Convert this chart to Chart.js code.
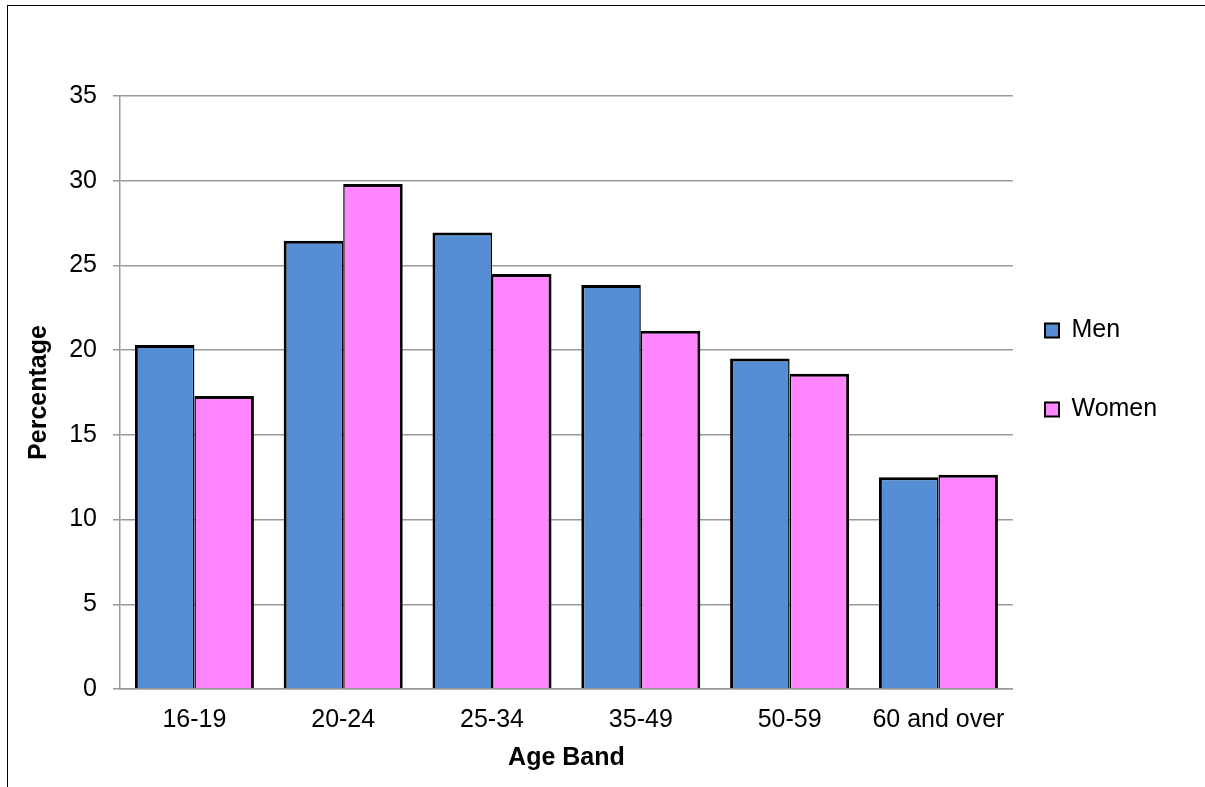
<!DOCTYPE html>
<html>
<head>
<meta charset="utf-8">
<script src="https://cdn.jsdelivr.net/npm/chart.js@4.4.0/dist/chart.umd.min.js"></script>
<style>
  html, body { margin: 0; padding: 0; background: #fff; }
  #wrap { position: relative; width: 1205px; height: 787px; overflow: hidden; }
  #frame { position: absolute; left: 7px; top: 5px; width: 1300px; height: 900px; border: 1.5px solid #000; box-sizing: border-box; }
  canvas { position: absolute; left: 0; top: 0; }
</style>
</head>
<body>
<div id="wrap">
  <div id="frame"></div>
  <canvas id="ageChart" width="1205" height="787"></canvas>
</div>
<script>
// --- Data ---
const ageBands = ['16-19', '20-24', '25-34', '35-49', '50-59', '60 and over'];
const menValues = [20.3, 26.45, 26.95, 23.85, 19.5, 12.5];
const womenValues = [17.3, 29.8, 24.5, 21.15, 18.6, 12.65];

const FONT = 'Liberation Sans, Arial, sans-serif';

// move the legend next to the plot, like the original
const legendSpot = {
  id: 'legendSpot',
  afterLayout(chart) {
    const lg = chart.legend;
    const pad = lg.options.labels.padding;
    const w = lg.right - lg.left;
    lg.left = 1045 - pad;
    lg.right = lg.left + w;
    lg.top = 329 - pad - 11;
    lg.bottom = 780;
  }
};

// --- Chart ---
const ctx = document.getElementById('ageChart');
const ageChart = new Chart(ctx, {
  type: 'bar',
  data: {
    labels: ageBands,
    datasets: [
      { label: 'Men', data: menValues, backgroundColor: '#558ed5', borderColor: '#000',
        borderWidth: { left: 3, top: 3, right: 1.5, bottom: 0 } },
      { label: 'Women', data: womenValues, backgroundColor: '#ff86ff', borderColor: '#000',
        borderWidth: { left: 1.5, top: 3, right: 3, bottom: 0 } }
    ]
  },
  options: {
    responsive: false,
    animation: false,
    layout: { padding: { left: 20, top: 96, bottom: 8, right: 16 } },
    datasets: { bar: { categoryPercentage: 0.8, barPercentage: 1.0 } },
    plugins: {
      legend: {
        position: 'right',
        align: 'start',
        labels: {
          color: '#000', font: { family: FONT, size: 25 }, boxWidth: 14, boxHeight: 14, padding: 54,
          generateLabels: chart => chart.data.datasets.map((ds, i) => ({
            text: ds.label, fillStyle: ds.backgroundColor, strokeStyle: '#000', lineWidth: 2,
            hidden: false, datasetIndex: i, fontColor: '#000'
          }))
        }
      },
      tooltip: { enabled: false }
    },
    scales: {
      x: {
        grid: { display: false },
        border: { color: '#999', width: 1.5 },
        ticks: { color: '#000', padding: 8, font: { family: FONT, size: 25 } },
        title: { display: true, text: 'Age Band', color: '#000', padding: 6, font: { family: FONT, size: 25, weight: 'bold' } },
        afterFit: s => { s.height = 90; }
      },
      y: {
        min: 0, max: 35,
        ticks: { stepSize: 5, color: '#000', padding: 16, font: { family: FONT, size: 25 } },
        grid: { color: '#999', lineWidth: 1.5, tickLength: 7 },
        border: { color: '#999', width: 1.5 },
        title: { display: true, text: 'Percentage', color: '#000', padding: 4, font: { family: FONT, size: 25, weight: 'bold' } },
        afterFit: s => { s.width = 100; }
      }
    }
  },
  plugins: [legendSpot]
});
</script>
</body>
</html>
